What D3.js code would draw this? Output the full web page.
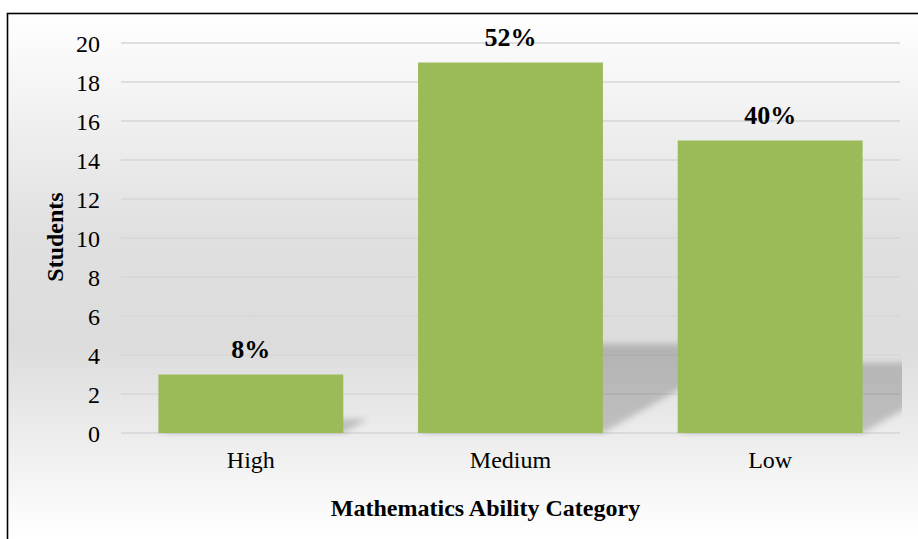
<!DOCTYPE html>
<html>
<head>
<meta charset="utf-8">
<script src="https://cdn.jsdelivr.net/npm/d3@7"></script>
<style>
  body { margin: 0; background: #fff; overflow: hidden; }
  svg { display: block; }
  svg text { font-family: "Liberation Serif", "Times New Roman", serif; fill: #000; }
</style>
</head>
<body>
<div id="chart"></div>
<script>
// data
var categories = ["High", "Medium", "Low"];
var students = [3, 19, 15];
var percentLabels = ["8%", "52%", "40%"];
var yTicks = [0, 2, 4, 6, 8, 10, 12, 14, 16, 18, 20];

var width = 918, height = 539;
var serif = "'Liberation Serif', 'Times New Roman', serif";
var margin = {left: 121, right: 18, top: 43, bottom: 106};
var plotRight = width - margin.right;   // ~900
var plotBottom = height - margin.bottom; // ~433

var svg = d3.select("#chart").append("svg")
    .attr("width", width)
    .attr("height", height);

var defs = svg.append("defs");

var bg = defs.append("linearGradient")
    .attr("id", "bg")
    .attr("gradientUnits", "userSpaceOnUse")
    .attr("x1", 0).attr("y1", 13).attr("x2", 0).attr("y2", height);
bg.append("stop").attr("offset", "0%").attr("stop-color", "#ffffff");
bg.append("stop").attr("offset", "42%").attr("stop-color", "#e0e0e0");
bg.append("stop").attr("offset", "63%").attr("stop-color", "#dcdcdc");
bg.append("stop").attr("offset", "100%").attr("stop-color", "#ffffff");

defs.append("filter")
    .attr("id", "blur")
    .attr("x", "-20%").attr("y", "-40%").attr("width", "140%").attr("height", "180%")
  .append("feGaussianBlur")
    .attr("stdDeviation", 3);

defs.append("clipPath")
    .attr("id", "plotClip")
  .append("rect")
    .attr("x", margin.left)
    .attr("y", margin.top - 10)
    .attr("width", plotRight + 2 - margin.left)
    .attr("height", plotBottom + 4 - margin.top + 10);

// chart area with border (right/bottom edges sit outside the picture)
svg.append("rect")
    .attr("x", 7.5)
    .attr("y", 13.5)
    .attr("width", width + 40)
    .attr("height", height + 40)
    .attr("fill", "url(#bg)")
    .attr("stroke", "#000")
    .attr("stroke-width", 1.6);

var x = d3.scaleBand()
    .domain(categories)
    .range([margin.left, plotRight])
    .paddingInner(0.288)
    .paddingOuter(0.144);

var y = d3.scaleLinear()
    .domain([0, 20])
    .range([plotBottom, margin.top]);

// gridlines
svg.append("g")
    .selectAll("line")
    .data(yTicks)
    .join("line")
    .attr("x1", margin.left)
    .attr("x2", plotRight)
    .attr("y1", d => y(d))
    .attr("y2", d => y(d))
    .attr("stroke", "#d6d6d6")
    .attr("stroke-width", 1.3);

// perspective shadows behind the bars
var shadowScale = 0.24, skew = 1.75;
var shadows = svg.append("g").attr("clip-path", "url(#plotClip)");
shadows.selectAll("path")
    .data(students)
    .join("path")
    .attr("d", function(d, i) {
        var x0 = x(categories[i]), x1 = x0 + x.bandwidth();
        var h = (y(0) - y(d)) * shadowScale;
        var b = y(0);
        return "M" + x0 + "," + b + "L" + x1 + "," + b +
               "L" + (x1 + skew * h) + "," + (b - h) +
               "L" + (x0 + skew * h) + "," + (b - h) + "Z";
    })
    .attr("fill", "#000")
    .attr("fill-opacity", 0.19)
    .attr("filter", "url(#blur)");

// bars
svg.append("g")
    .selectAll("rect")
    .data(students)
    .join("rect")
    .attr("x", (d, i) => x(categories[i]))
    .attr("y", d => y(d))
    .attr("width", x.bandwidth())
    .attr("height", d => y(0) - y(d))
    .attr("fill", "#9bbb59");

// data labels
svg.append("g")
    .attr("font-family", serif)
    .selectAll("text")
    .data(students)
    .join("text")
    .attr("x", (d, i) => x(categories[i]) + x.bandwidth() / 2)
    .attr("y", d => y(d) - 17)
    .attr("text-anchor", "middle")
    .attr("font-size", "26px")
    .attr("font-weight", "bold")
    .text((d, i) => percentLabels[i]);

// y axis
var yAxis = svg.append("g")
    .attr("transform", "translate(" + (margin.left - 21) + ",0)")
    .call(d3.axisLeft(y).tickValues(yTicks).tickSize(0).tickPadding(0))
    .attr("font-family", serif)
    .attr("font-size", "24px");
yAxis.select(".domain").remove();
yAxis.selectAll("text")
    .attr("dy", "0.34em");

// x axis
var xAxis = svg.append("g")
    .attr("transform", "translate(0," + plotBottom + ")")
    .call(d3.axisBottom(x).tickSize(0).tickPadding(0))
    .attr("font-family", serif)
    .attr("font-size", "24px");
xAxis.select(".domain").remove();
xAxis.selectAll("text")
    .attr("dy", "0")
    .attr("y", 35);

// axis titles
svg.append("text")
    .attr("x", (margin.left + plotRight) / 2 - 25)
    .attr("y", 516)
    .attr("text-anchor", "middle")
    .attr("font-family", serif)
    .attr("font-size", "24px")
    .attr("font-weight", "bold")
    .text("Mathematics Ability Category");

svg.append("text")
    .attr("transform", "translate(63,237) rotate(-90)")
    .attr("text-anchor", "middle")
    .attr("font-family", serif)
    .attr("font-size", "24px")
    .attr("font-weight", "bold")
    .text("Students");
</script>
</body>
</html>
